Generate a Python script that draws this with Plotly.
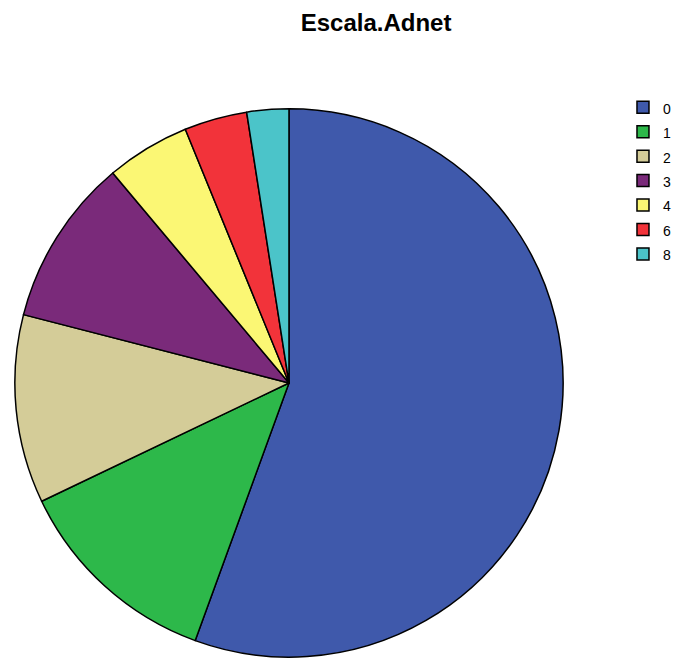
import plotly.graph_objects as go

# Frequency of each Adnet scale score
categories = ["0", "1", "2", "3", "4", "6", "8"]
counts = [45, 10, 9, 8, 4, 3, 2]
colors = ["#3F59AB", "#2DB84A", "#D4CC98", "#7A2A7A", "#FBF774", "#F2333A", "#4BC4C9"]

W, H = 676, 658

# Legend labels rendered slightly smaller than the legend font, which sets row spacing
legend_labels = [f'<span style="font-size:14px">{c}</span>' for c in categories]

fig = go.Figure(
    go.Pie(
        labels=legend_labels,
        values=counts,
        sort=False,
        direction="clockwise",
        rotation=0,
        textinfo="none",
        customdata=categories,
        hovertemplate="%{customdata}: %{value} (%{percent})<extra></extra>",
        marker=dict(colors=colors, line=dict(color="black", width=1.5)),
        domain=dict(x=[15 / W, 569 / W], y=[0, 1 - 108 / H]),
    )
)

fig.update_layout(
    width=W,
    height=H,
    margin=dict(l=0, r=0, t=0, b=0),
    paper_bgcolor="white",
    plot_bgcolor="white",
    title=dict(
        text="<b>Escala.Adnet</b>",
        font=dict(family="Liberation Sans, Arial, sans-serif", size=24, color="black"),
        x=380 / W,
        xanchor="center",
        xref="paper",
        y=1 - 23 / H,
        yanchor="middle",
        yref="container",
    ),
    legend=dict(
        x=629.5 / W,
        xanchor="left",
        y=1 - 90 / H,
        yanchor="top",
        font=dict(family="Liberation Sans, Arial, sans-serif", size=16.5, color="black"),
        bgcolor="rgba(0,0,0,0)",
        traceorder="normal",
    ),
    showlegend=True,
)

fig.write_html("out.html")
